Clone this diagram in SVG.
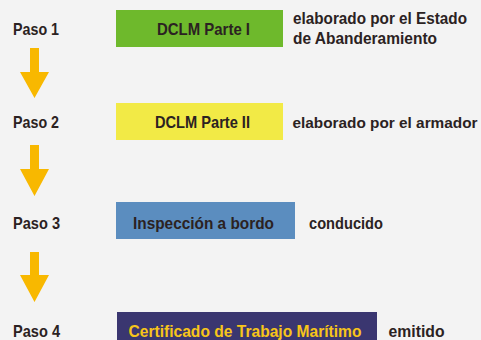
<svg xmlns="http://www.w3.org/2000/svg" width="481" height="340" viewBox="0 0 481 340">
<style>
text{font-family:"Liberation Sans",Arial,sans-serif;font-weight:bold;font-size:16.5px;fill:#2b2222}
.cert{fill:#f7c51a}
.arrow{fill:#f8b800}
</style>
<rect x="0" y="0" width="481" height="340" fill="#f3f3f3"/>
<g id="step1">
<text x="13" y="35" textLength="46" lengthAdjust="spacingAndGlyphs">Paso 1</text>
<rect x="116" y="10" width="167" height="37" fill="#6eb92c"/>
<text x="157" y="35" textLength="93" lengthAdjust="spacingAndGlyphs">DCLM Parte I</text>
<text x="293" y="23.5" textLength="174" lengthAdjust="spacingAndGlyphs">elaborado por el Estado</text>
<text x="293" y="43.5" textLength="144" lengthAdjust="spacingAndGlyphs">de Abanderamiento</text>
</g>
<g id="step2">
<text x="13" y="127.5" textLength="46" lengthAdjust="spacingAndGlyphs">Paso 2</text>
<rect x="116" y="103" width="167" height="37" fill="#f2ea46"/>
<text x="155" y="127.5" textLength="95" lengthAdjust="spacingAndGlyphs">DCLM Parte II</text>
<text x="292.5" y="127.5" style="font-size:15.5px" textLength="185" lengthAdjust="spacingAndGlyphs">elaborado por el armador</text>
</g>
<g id="step3">
<text x="13" y="228.5" textLength="47" lengthAdjust="spacingAndGlyphs">Paso 3</text>
<rect x="116" y="202" width="179" height="37" fill="#5b8dbf"/>
<text x="133" y="228.5" textLength="141" lengthAdjust="spacingAndGlyphs">Inspección a bordo</text>
<text x="309" y="228.5" textLength="74" lengthAdjust="spacingAndGlyphs">conducido</text>
</g>
<g id="step4">
<text x="13" y="337" textLength="47" lengthAdjust="spacingAndGlyphs">Paso 4</text>
<rect x="117" y="312" width="260" height="28" fill="#3a3670"/>
<text class="cert" x="128.5" y="337" textLength="233" lengthAdjust="spacingAndGlyphs">Certificado de Trabajo Marítimo</text>
<text x="388.5" y="337" textLength="56" lengthAdjust="spacingAndGlyphs">emitido</text>
</g>
<g id="connectors">
<polygon class="arrow" points="30,48 39,48 39,72 49,72 34.5,98 20,72 30,72"/>
<polygon class="arrow" points="30,145 39,145 39,169 49,169 34.5,196 20,169 30,169"/>
<polygon class="arrow" points="30,252 39,252 39,275 49,275 34.5,302 20,275 30,275"/>
</g>
</svg>
